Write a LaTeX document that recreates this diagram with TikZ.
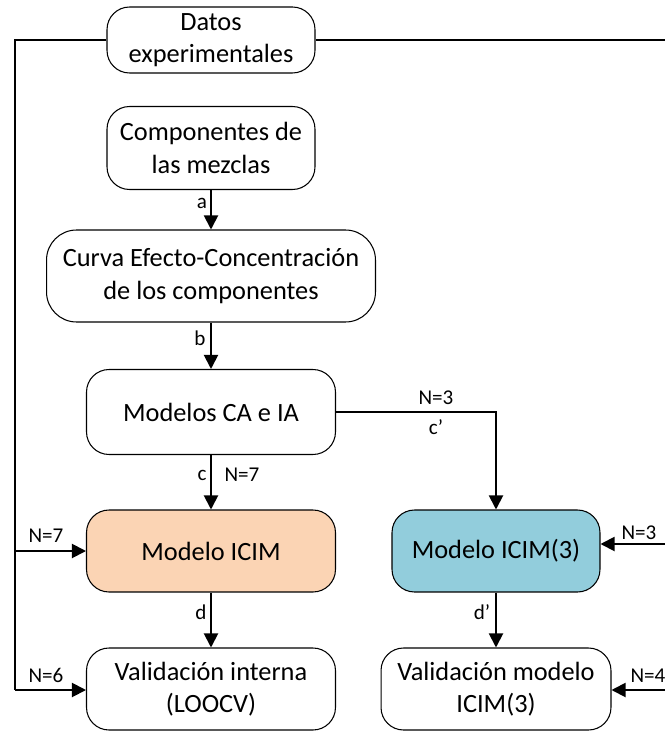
\documentclass[tikz,border=0pt]{standalone}
\usepackage{fontspec}
\setmainfont{Carlito}
\usetikzlibrary{arrows.meta}

\definecolor{durazno}{HTML}{FBD4B4}
\definecolor{celeste}{HTML}{92CDDC}

\begin{document}
\begin{tikzpicture}[x=0.02cm,y=-0.02cm,
	caja/.style={draw=black,line width=0.6pt,rounded corners=0.45cm,align=center,inner sep=0pt,font=\fontsize{15}{18.5}\selectfont},
	flecha/.style={line width=1.1pt,-{Triangle[width=8pt,length=8pt]}},
	linea/.style={line width=1.1pt},
	etiq/.style={font=\fontsize{12}{14}\selectfont,inner sep=1pt}]
		\clip (0,0) rectangle (665,733);
		% cajas
		\node[caja,minimum width=4.16cm,minimum height=1.32cm] (datos) at (211,40) {Datos\\experimentales};
		\node[caja,minimum width=4.16cm,minimum height=1.66cm] (comp) at (211,148) {Componentes de\\las mezclas};
		\node[caja,minimum width=6.58cm,minimum height=1.84cm,rounded corners=0.6cm] (curva) at (211,276) {Curva Efecto-Concentración\\de los componentes};
		\node[caja,minimum width=4.98cm,minimum height=1.70cm] (modelos) at (211,412) {Modelos CA e IA};
		\node[caja,fill=durazno,minimum width=4.98cm,minimum height=1.64cm] (icim) at (211,551) {Modelo ICIM};
		\node[caja,fill=celeste,minimum width=4.16cm,minimum height=1.64cm] (icim3) at (496,551) {Modelo ICIM(3)};
		\node[caja,minimum width=4.98cm,minimum height=1.64cm] (valint) at (211,689) {Validación interna\\(LOOCV)};
		\node[caja,minimum width=4.60cm,minimum height=1.64cm] (valmod) at (496,689) {Validación modelo\\ICIM(3)};
		% flechas principales
		\draw[flecha] (comp) -- (curva);
		\draw[flecha] (curva) -- (modelos);
		\draw[flecha] (modelos) -- (icim);
		\draw[flecha] (modelos.east) -| (icim3.north);
		\draw[flecha] (icim) -- (valint);
		\draw[flecha] (icim3) -- (valmod);
		% datos experimentales
		\coordinate (izq) at (15,690);
		\coordinate (izq1) at (15,551);
		\coordinate (der) at (700,690);
		\coordinate (der1) at (700,544);
		\draw[linea] (datos.west) -| (izq);
		\draw[linea] (datos.east) -| (der);
		\draw[flecha] (izq1) -- (icim.west);
		\draw[flecha] (izq) -- (izq -| valint.west);
		\draw[flecha] (der1) -- (der1 -| icim3.east);
		\draw[flecha] (der) -- (der -| valmod.east);
		% etiquetas
		\node[etiq] (la) at (202,203) {a};
		\node[etiq] (lb) at (200,338) {b};
		\node[etiq] (lc) at (202,475) {c};
		\node[etiq] (ln7) at (242,475) {N=7};
		\node[etiq] (ln3) at (436,398) {N=3};
		\node[etiq] (lcp) at (436,427) {c’};
		\node[etiq] (ld) at (201,612) {d};
		\node[etiq] (ldp) at (482,612) {d’};
		\node[etiq] (li7) at (46,536) {N=7};
		\node[etiq] (li6) at (46,675) {N=6};
		\node[etiq] (lr3) at (639,533) {N=3};
		\node[etiq] (lr4) at (648,676) {N=4};
	\end{tikzpicture}
\end{document}
